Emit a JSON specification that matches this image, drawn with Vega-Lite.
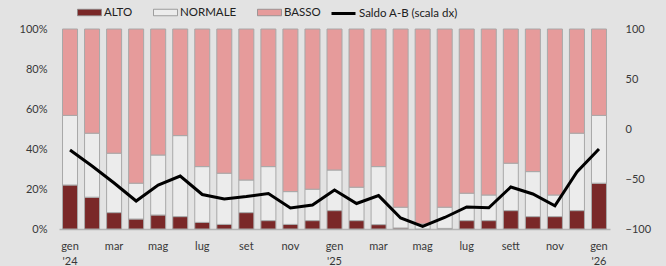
{
  "$schema": "https://vega.github.io/schema/vega-lite/v6.json",
  "width": 551,
  "height": 200,
  "autosize": {"type": "none"},
  "padding": {"left": 59, "top": 29, "right": 56, "bottom": 37},
  "background": "#e3e3e3",
  "config": {
    "view": {"stroke": null},
    "font": "Lato",
    "axis": {"labelFont": "Lato", "labelFontSize": 11, "labelColor": "#383838", "grid": false, "ticks": false, "title": null},
    "legend": {"labelFont": "Lato", "labelFontSize": 11.5, "labelColor": "#202020"}
  },
  "datasets": {
    "bars": [
      {"mese": "gen '24", "cat": "ALTO", "ord": 1, "val": 22.0}, {"mese": "gen '24", "cat": "NORMALE", "ord": 2, "val": 34.8}, {"mese": "gen '24", "cat": "BASSO", "ord": 3, "val": 43.2},
      {"mese": "feb '24", "cat": "ALTO", "ord": 1, "val": 15.9}, {"mese": "feb '24", "cat": "NORMALE", "ord": 2, "val": 32.0}, {"mese": "feb '24", "cat": "BASSO", "ord": 3, "val": 52.1},
      {"mese": "mar '24", "cat": "ALTO", "ord": 1, "val": 8.2}, {"mese": "mar '24", "cat": "NORMALE", "ord": 2, "val": 29.7}, {"mese": "mar '24", "cat": "BASSO", "ord": 3, "val": 62.1},
      {"mese": "apr '24", "cat": "ALTO", "ord": 1, "val": 5.0}, {"mese": "apr '24", "cat": "NORMALE", "ord": 2, "val": 17.9}, {"mese": "apr '24", "cat": "BASSO", "ord": 3, "val": 77.1},
      {"mese": "mag '24", "cat": "ALTO", "ord": 1, "val": 7.0}, {"mese": "mag '24", "cat": "NORMALE", "ord": 2, "val": 30.0}, {"mese": "mag '24", "cat": "BASSO", "ord": 3, "val": 63.0},
      {"mese": "giu '24", "cat": "ALTO", "ord": 1, "val": 6.2}, {"mese": "giu '24", "cat": "NORMALE", "ord": 2, "val": 40.5}, {"mese": "giu '24", "cat": "BASSO", "ord": 3, "val": 53.3},
      {"mese": "lug '24", "cat": "ALTO", "ord": 1, "val": 3.3}, {"mese": "lug '24", "cat": "NORMALE", "ord": 2, "val": 27.9}, {"mese": "lug '24", "cat": "BASSO", "ord": 3, "val": 68.8},
      {"mese": "ago '24", "cat": "ALTO", "ord": 1, "val": 2.3}, {"mese": "ago '24", "cat": "NORMALE", "ord": 2, "val": 25.6}, {"mese": "ago '24", "cat": "BASSO", "ord": 3, "val": 72.1},
      {"mese": "set '24", "cat": "ALTO", "ord": 1, "val": 8.2}, {"mese": "set '24", "cat": "NORMALE", "ord": 2, "val": 16.3}, {"mese": "set '24", "cat": "BASSO", "ord": 3, "val": 75.5},
      {"mese": "ott '24", "cat": "ALTO", "ord": 1, "val": 4.2}, {"mese": "ott '24", "cat": "NORMALE", "ord": 2, "val": 27.0}, {"mese": "ott '24", "cat": "BASSO", "ord": 3, "val": 68.8},
      {"mese": "nov '24", "cat": "ALTO", "ord": 1, "val": 2.3}, {"mese": "nov '24", "cat": "NORMALE", "ord": 2, "val": 16.4}, {"mese": "nov '24", "cat": "BASSO", "ord": 3, "val": 81.3},
      {"mese": "dic '24", "cat": "ALTO", "ord": 1, "val": 4.2}, {"mese": "dic '24", "cat": "NORMALE", "ord": 2, "val": 15.7}, {"mese": "dic '24", "cat": "BASSO", "ord": 3, "val": 80.1},
      {"mese": "gen '25", "cat": "ALTO", "ord": 1, "val": 9.2}, {"mese": "gen '25", "cat": "NORMALE", "ord": 2, "val": 20.3}, {"mese": "gen '25", "cat": "BASSO", "ord": 3, "val": 70.5},
      {"mese": "feb '25", "cat": "ALTO", "ord": 1, "val": 4.2}, {"mese": "feb '25", "cat": "NORMALE", "ord": 2, "val": 16.7}, {"mese": "feb '25", "cat": "BASSO", "ord": 3, "val": 79.1},
      {"mese": "mar '25", "cat": "ALTO", "ord": 1, "val": 2.2}, {"mese": "mar '25", "cat": "NORMALE", "ord": 2, "val": 29.0}, {"mese": "mar '25", "cat": "BASSO", "ord": 3, "val": 68.8},
      {"mese": "apr '25", "cat": "ALTO", "ord": 1, "val": 0.5}, {"mese": "apr '25", "cat": "NORMALE", "ord": 2, "val": 10.4}, {"mese": "apr '25", "cat": "BASSO", "ord": 3, "val": 89.1},
      {"mese": "mag '25", "cat": "ALTO", "ord": 1, "val": 0.0}, {"mese": "mag '25", "cat": "NORMALE", "ord": 2, "val": 2.5}, {"mese": "mag '25", "cat": "BASSO", "ord": 3, "val": 97.5},
      {"mese": "giu '25", "cat": "ALTO", "ord": 1, "val": 0.3}, {"mese": "giu '25", "cat": "NORMALE", "ord": 2, "val": 10.6}, {"mese": "giu '25", "cat": "BASSO", "ord": 3, "val": 89.1},
      {"mese": "lug '25", "cat": "ALTO", "ord": 1, "val": 4.2}, {"mese": "lug '25", "cat": "NORMALE", "ord": 2, "val": 13.7}, {"mese": "lug '25", "cat": "BASSO", "ord": 3, "val": 82.1},
      {"mese": "ago '25", "cat": "ALTO", "ord": 1, "val": 4.2}, {"mese": "ago '25", "cat": "NORMALE", "ord": 2, "val": 12.8}, {"mese": "ago '25", "cat": "BASSO", "ord": 3, "val": 83.0},
      {"mese": "sett '25", "cat": "ALTO", "ord": 1, "val": 9.2}, {"mese": "sett '25", "cat": "NORMALE", "ord": 2, "val": 23.7}, {"mese": "sett '25", "cat": "BASSO", "ord": 3, "val": 67.1},
      {"mese": "ott '25", "cat": "ALTO", "ord": 1, "val": 6.2}, {"mese": "ott '25", "cat": "NORMALE", "ord": 2, "val": 22.5}, {"mese": "ott '25", "cat": "BASSO", "ord": 3, "val": 71.3},
      {"mese": "nov '25", "cat": "ALTO", "ord": 1, "val": 6.2}, {"mese": "nov '25", "cat": "NORMALE", "ord": 2, "val": 10.8}, {"mese": "nov '25", "cat": "BASSO", "ord": 3, "val": 83.0},
      {"mese": "dic '25", "cat": "ALTO", "ord": 1, "val": 9.2}, {"mese": "dic '25", "cat": "NORMALE", "ord": 2, "val": 38.7}, {"mese": "dic '25", "cat": "BASSO", "ord": 3, "val": 52.1},
      {"mese": "gen '26", "cat": "ALTO", "ord": 1, "val": 22.9}, {"mese": "gen '26", "cat": "NORMALE", "ord": 2, "val": 33.9}, {"mese": "gen '26", "cat": "BASSO", "ord": 3, "val": 43.2}
    ],
    "saldo": [
      {"mese": "gen '24", "saldo": -21}, {"mese": "feb '24", "saldo": -37}, {"mese": "mar '24", "saldo": -54},
      {"mese": "apr '24", "saldo": -72}, {"mese": "mag '24", "saldo": -56}, {"mese": "giu '24", "saldo": -47},
      {"mese": "lug '24", "saldo": -65.5}, {"mese": "ago '24", "saldo": -70}, {"mese": "set '24", "saldo": -67.5},
      {"mese": "ott '24", "saldo": -64.5}, {"mese": "nov '24", "saldo": -79}, {"mese": "dic '24", "saldo": -76},
      {"mese": "gen '25", "saldo": -61}, {"mese": "feb '25", "saldo": -74.5}, {"mese": "mar '25", "saldo": -66.6},
      {"mese": "apr '25", "saldo": -89}, {"mese": "mag '25", "saldo": -97.5}, {"mese": "giu '25", "saldo": -88.5},
      {"mese": "lug '25", "saldo": -78}, {"mese": "ago '25", "saldo": -78.8}, {"mese": "sett '25", "saldo": -58},
      {"mese": "ott '25", "saldo": -65}, {"mese": "nov '25", "saldo": -76.8}, {"mese": "dic '25", "saldo": -43},
      {"mese": "gen '26", "saldo": -20}
    ]
  },
  "encoding": {
    "x": {
      "field": "mese", "type": "ordinal", "sort": null,
      "scale": {"type": "band", "paddingInner": 0, "paddingOuter": 0},
      "axis": {
        "values": ["gen '24", "mar '24", "mag '24", "lug '24", "set '24", "nov '24", "gen '25", "mar '25", "mag '25", "lug '25", "sett '25", "nov '25", "gen '26"],
        "labelExpr": "indexof(datum.value, 'gen') == 0 ? split(datum.value, ' ') : split(datum.value, ' ')[0]",
        "labelAngle": 0, "labelPadding": 11, "labelLineHeight": 15,
        "domain": true, "domainColor": "#b5b5b5", "domainWidth": 1.5
      }
    }
  },
  "layer": [
    {
      "data": {"name": "bars"},
      "mark": {"type": "bar", "size": 15, "stroke": "#a8a8a8", "strokeWidth": 1},
      "encoding": {
        "y": {
          "field": "val", "type": "quantitative", "stack": "zero",
          "scale": {"domain": [0, 100]},
          "axis": {"values": [0, 20, 40, 60, 80, 100], "labelExpr": "datum.value + '%'", "domain": false, "labelPadding": 12}
        },
        "order": {"field": "ord", "type": "quantitative"},
        "fill": {
          "field": "cat", "type": "nominal",
          "scale": {"domain": ["ALTO", "NORMALE", "BASSO"], "range": ["#7a2828", "#ececec", "#e69b9b"]},
          "legend": {
            "title": null, "orient": "none", "direction": "horizontal", "legendX": 18, "legendY": -29,
            "symbolType": "M-1,-0.27H1V0.27H-1Z", "symbolSize": 576, "symbolStrokeColor": "#8a8a8a", "symbolStrokeWidth": 0.8,
            "labelOffset": 2, "columnPadding": 18
          }
        }
      }
    },
    {
      "data": {"name": "saldo"},
      "mark": {"type": "line", "strokeWidth": 3},
      "encoding": {
        "y": {
          "field": "saldo", "type": "quantitative",
          "scale": {"domain": [-100, 100]},
          "axis": {"orient": "right", "values": [-100, -50, 0, 50, 100], "domain": false, "labelPadding": 15}
        },
        "stroke": {
          "datum": "Saldo A-B (scala dx)",
          "scale": {"range": ["#000000"]},
          "legend": {
            "title": null, "orient": "none", "direction": "horizontal", "legendX": 271, "legendY": -29,
            "symbolType": "stroke", "symbolSize": 576, "symbolStrokeWidth": 3, "labelOffset": 2
          }
        }
      }
    }
  ],
  "resolve": {"scale": {"y": "independent"}}
}
